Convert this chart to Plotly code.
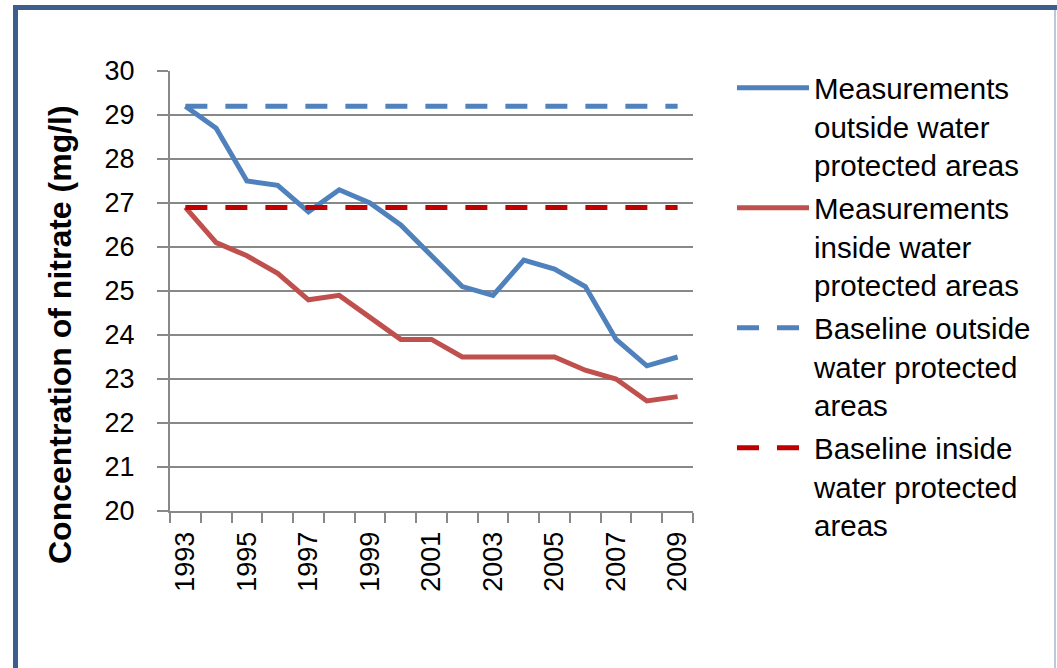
import plotly.graph_objects as go

years = [1993, 1994, 1995, 1996, 1997, 1998, 1999, 2000, 2001,
         2002, 2003, 2004, 2005, 2006, 2007, 2008, 2009]
outside = [29.2, 28.7, 27.5, 27.4, 26.8, 27.3, 27.0, 26.5, 25.8,
           25.1, 24.9, 25.7, 25.5, 25.1, 23.9, 23.3, 23.5]
inside = [26.9, 26.1, 25.8, 25.4, 24.8, 24.9, 24.4, 23.9, 23.9,
          23.5, 23.5, 23.5, 23.5, 23.2, 23.0, 22.5, 22.6]
baseline_outside = [29.2] * len(years)
baseline_inside = [26.9] * len(years)
tick_years = [1993, 1995, 1997, 1999, 2001, 2003, 2005, 2007, 2009]
y_ticks = [20, 21, 22, 23, 24, 25, 26, 27, 28, 29, 30]

FONT = "Liberation Sans, Arial, sans-serif"
W, H = 1057, 668
L, R, T, B = 170, 693, 71, 511


def px_x(p):
    return (p - L) / (R - L)


def px_y(p):
    return (B - p) / (B - T)


fig = go.Figure()
fig.add_trace(go.Scatter(
    x=years, y=outside, mode="lines",
    name="Measurements<br>outside water<br>protected areas",
    line=dict(color="#4F81BD", width=5), legendgroup="a"))
fig.add_trace(go.Scatter(
    x=years, y=inside, mode="lines",
    name="Measurements<br>inside water<br>protected areas",
    line=dict(color="#C0504D", width=5), legendgroup="b"))
fig.add_trace(go.Scatter(
    x=years, y=baseline_outside, mode="lines",
    name="Baseline outside<br>water protected<br>areas",
    line=dict(color="#4F81BD", width=5, dash="22px,18px"), legendgroup="c"))
fig.add_trace(go.Scatter(
    x=years, y=baseline_inside, mode="lines",
    name="Baseline inside<br>water protected<br>areas",
    line=dict(color="#C00000", width=5, dash="22px,18px"), legendgroup="d"))

grid_col = "#888888"
fig.update_layout(
    width=W, height=H,
    margin=dict(l=L, r=W - R, t=T, b=H - B, pad=0),
    paper_bgcolor="white", plot_bgcolor="white",
    font=dict(family=FONT, color="black", size=27),
    showlegend=True,
    legend=dict(
        x=px_x(732), y=px_y(62), xanchor="left", yanchor="top",
        font=dict(family=FONT, size=29.5, color="black"),
        itemwidth=72, tracegroupgap=2, traceorder="grouped",
        valign="top", maxheight=620,
        bgcolor="rgba(0,0,0,0)"),
    xaxis=dict(
        range=[1992.5, 2009.5], tickmode="array", tickvals=tick_years,
        ticktext=[str(v) for v in tick_years], tickangle=-90,
        ticks="", showgrid=False, zeroline=False,
        showline=True, linecolor=grid_col, linewidth=2,
        tickfont=dict(family=FONT, size=27, color="black"),
        ticklabelstandoff=8,
        minor=dict(tickmode="linear", tick0=1992.5, dtick=1, ticks="outside",
                   ticklen=10, tickwidth=2, tickcolor=grid_col, showgrid=False),
    ),
    yaxis=dict(
        range=[20, 30], tickmode="array", tickvals=y_ticks,
        ticks="outside", ticklen=11, tickwidth=2, tickcolor=grid_col,
        showgrid=True, gridcolor=grid_col, gridwidth=1.6,
        zeroline=False, showline=True, linecolor=grid_col, linewidth=2,
        tickfont=dict(family=FONT, size=27, color="black"),
        ticklabelstandoff=17,
    ),
    annotations=[dict(
        text="<b>Concentration of nitrate (mg/l)</b>",
        xref="paper", yref="paper", x=px_x(60), y=px_y(335),
        xanchor="center", yanchor="middle", textangle=-90, showarrow=False,
        font=dict(family=FONT, size=32, color="black"))],
    shapes=[
        dict(type="rect", xref="paper", yref="paper",
             x0=px_x(15.5), x1=px_x(1065), y0=px_y(690), y1=px_y(7.5),
             line=dict(color="#3B5E8C", width=5), fillcolor="rgba(0,0,0,0)",
             layer="above"),
        dict(type="line", xref="paper", yref="paper",
             x0=px_x(1055), x1=px_x(1055), y0=px_y(668), y1=px_y(10),
             line=dict(color="#A7B7CB", width=1.5)),
    ],
)

fig.write_html("out.html",
               config={"displayModeBar": False},
               post_script="document.body.style.margin='0';"
                           "document.body.style.overflow='hidden';")
